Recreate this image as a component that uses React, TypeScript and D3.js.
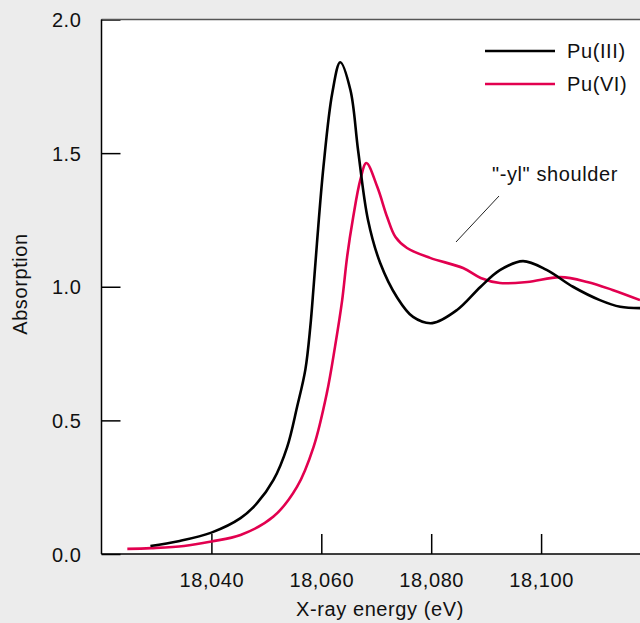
import React, { useEffect, useRef } from 'react';
import * as d3 from 'd3';

// Pu(III) spectrum
const energyIII = [18028.9, 18034, 18040, 18045.3, 18048.3, 18051.3, 18053.8, 18055.6, 18057.1, 18058, 18058.6, 18059.2, 18060.4, 18062, 18063.45, 18065.3, 18066.7, 18068.5, 18070.7, 18073.8, 18076.7, 18080.2, 18084.7, 18089, 18092.5, 18096.7, 18101, 18105.8, 18110.7, 18114.4, 18118];
const absorptionIII = [0.03, 0.048, 0.08, 0.134, 0.19, 0.277, 0.401, 0.551, 0.69, 0.85, 1.0, 1.16, 1.45, 1.725, 1.84, 1.736, 1.51, 1.25, 1.09, 0.96, 0.887, 0.864, 0.913, 1.0, 1.062, 1.096, 1.063, 1.0, 0.95, 0.925, 0.92];

// Pu(VI) spectrum
const energyVI = [18024.7, 18029, 18035, 18040, 18045.3, 18051.3, 18055.6, 18058.6, 18061, 18062.5, 18063.8, 18064.7, 18065.8, 18067.1, 18068.2, 18070.2, 18072, 18073.5, 18075.6, 18079.8, 18085.8, 18089, 18092.5, 18097.5, 18103.5, 18108.4, 18113, 18118];
const absorptionVI = [0.019, 0.022, 0.03, 0.047, 0.071, 0.14, 0.252, 0.401, 0.601, 0.776, 0.95, 1.112, 1.26, 1.4, 1.463, 1.373, 1.26, 1.186, 1.145, 1.108, 1.07, 1.033, 1.014, 1.018, 1.036, 1.018, 0.988, 0.95];

const xTicks = [18040, 18060, 18080, 18100];
const yTicks = [0, 0.5, 1.0, 1.5, 2.0];
const seriesNames = ['Pu(III)', 'Pu(VI)'];
const annotationText = '"-yl" shoulder';

const W = 640;
const H = 623;
const plot = { left: 101.5, right: 640, top: 19.5, bottom: 554 };
const colors = ['#000000', '#e2004f'];
const font = '"Liberation Sans", Arial, Helvetica, sans-serif';

const App = () => {
  const ref = useRef<SVGSVGElement | null>(null);

  useEffect(() => {
    document.body.style.margin = '0';
    const svg = d3.select(ref.current);
    svg.selectAll('*').remove();

    const styleText = (sel: any) => sel
      .attr('fill', '#111')
      .style('font-family', font)
      .style('font-size', '20px')
      .style('letter-spacing', '0.6px');

    svg.append('rect').attr('width', W).attr('height', H).attr('fill', '#ececec');
    svg.append('rect')
      .attr('x', plot.left).attr('y', plot.top)
      .attr('width', plot.right - plot.left).attr('height', plot.bottom - plot.top)
      .attr('fill', '#ffffff');

    const x = d3.scaleLinear().domain([18020, 18118]).range([plot.left, plot.right]);
    const y = d3.scaleLinear().domain([0, 2]).range([plot.bottom, plot.top]);

    // axes with inward ticks
    const yAxis = svg.append('g')
      .attr('transform', `translate(${plot.left},0)`)
      .call(d3.axisLeft(y).tickValues(yTicks).tickFormat(d3.format('.1f')).tickSizeInner(-19).tickSizeOuter(0).tickPadding(20));
    const xAxis = svg.append('g')
      .attr('transform', `translate(0,${plot.bottom})`)
      .call(d3.axisBottom(x).tickValues(xTicks).tickFormat(d3.format(',')).tickSizeInner(-20).tickSizeOuter(0).tickPadding(19));

    [yAxis, xAxis].forEach(g => {
      g.select('.domain').remove();
      g.selectAll('line').attr('stroke', '#000').attr('stroke-width', 1.5);
      styleText(g.selectAll('text'));
    });
    yAxis.selectAll('text').attr('dy', '0.36em');

    // frame
    svg.append('line').attr('x1', plot.left).attr('x2', plot.right).attr('y1', plot.top).attr('y2', plot.top)
      .attr('stroke', '#555').attr('stroke-width', 1.5);
    svg.append('line').attr('x1', plot.left).attr('x2', plot.left).attr('y1', plot.top).attr('y2', plot.bottom)
      .attr('stroke', '#000').attr('stroke-width', 1.5);
    svg.append('line').attr('x1', plot.left).attr('x2', plot.right).attr('y1', plot.bottom).attr('y2', plot.bottom)
      .attr('stroke', '#000').attr('stroke-width', 1.5);

    const line = d3.line<[number, number]>()
      .x(d => x(d[0]))
      .y(d => y(d[1]))
      .curve(d3.curveCatmullRom.alpha(0.5));

    const seriesData = [
      energyIII.map((e, i) => [e, absorptionIII[i]] as [number, number]),
      energyVI.map((e, i) => [e, absorptionVI[i]] as [number, number]),
    ];

    // draw Pu(VI) first so Pu(III) sits on top
    [1, 0].forEach(i => {
      svg.append('path')
        .datum(seriesData[i])
        .attr('d', line)
        .attr('fill', 'none')
        .attr('stroke', colors[i])
        .attr('stroke-width', 2.6)
        .attr('stroke-linejoin', 'round');
    });

    // legend
    const legendY = [51, 84];
    seriesNames.forEach((name, i) => {
      svg.append('line')
        .attr('x1', 485).attr('x2', 555)
        .attr('y1', legendY[i]).attr('y2', legendY[i])
        .attr('stroke', colors[i]).attr('stroke-width', 2.6);
      styleText(svg.append('text'))
        .attr('x', 567).attr('y', legendY[i] + 7)
        .text(name);
    });

    // annotation
    styleText(svg.append('text'))
      .attr('x', 492).attr('y', 181)
      .text(annotationText);
    svg.append('line')
      .attr('x1', 499).attr('y1', 196).attr('x2', 456).attr('y2', 242)
      .attr('stroke', '#222').attr('stroke-width', 1);

    // axis titles
    styleText(svg.append('text'))
      .attr('x', 380).attr('y', 616)
      .attr('text-anchor', 'middle')
      .text('X-ray energy (eV)');
    styleText(svg.append('text'))
      .attr('transform', 'translate(27,284) rotate(-90)')
      .attr('text-anchor', 'middle')
      .text('Absorption');
  }, []);

  return <svg ref={ref} width={W} height={H} style={{ display: 'block' }} />;
};

export default App;
